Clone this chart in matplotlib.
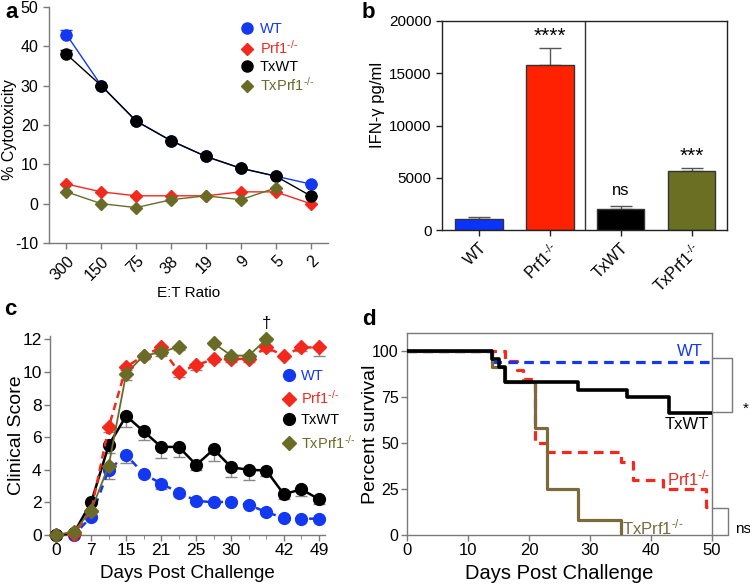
import matplotlib
matplotlib.use('Agg')
import matplotlib.pyplot as plt
from matplotlib.lines import Line2D
import numpy as np

plt.rcParams['font.family'] = ['Liberation Sans', 'DejaVu Sans']
plt.rcParams['mathtext.fontset'] = 'custom'
plt.rcParams['mathtext.rm'] = 'Liberation Sans'
plt.rcParams['mathtext.it'] = 'Liberation Sans:italic'
plt.rcParams['mathtext.default'] = 'regular'
plt.rcParams['axes.unicode_minus'] = False

BLUE = '#1238f2'
RED = '#f2291c'
BLACK = '#000000'
OLIVE = '#6b6b28'
OLIVE_D = '#7a6a3c'
GREY = '#7a7a7a'
SUP = '$^{\u2010/\u2010}$'

# ---------------- Panel a data ----------------
a_ratios = ['300', '150', '75', '38', '19', '9', '5', '2']
a_wt = [43, 30, 21, 16, 12, 9, 7, 5]
a_wt_err = [1.2, 0, 0, 0, 0, 0, 0, 0]
a_prf = [5, 3, 2, 2, 2, 3, 3, 0]
a_txwt = [38, 30, 21, 16, 12, 9, 7, 2]
a_txwt_err = [1.0, 0, 0, 0, 0, 0, 0, 0]
a_txprf = [3, 0, -1, 1, 2, 1, 4, np.nan]

# ---------------- Panel b data ----------------
b_groups = ['WT', 'Prf1' + SUP, 'TxWT', 'TxPrf1' + SUP]
b_vals = [1050, 15800, 2000, 5600]
b_err = [200, 1600, 250, 300]
b_sig = ['', '****', 'ns', '***']
b_colors = ['#0a33ff', '#ff2200', '#000000', '#6b6f24']

# ---------------- Panel c data ----------------
c_wt = [0, 0, 1.1, 4.0, 4.9, 3.75, 3.15, 2.6, 2.1, 2.0, 2.05, 1.85, 1.4, 1.05, 1.0, 1.0]
c_wt_err = [0, 0, 0.1, 0.55, 0.5, 0.2, 0.3, 0.2, 0.15, 0.1, 0.1, 0.1, 0.1, 0.1, 0.1, 0.1]
c_prf = [0, 0.05, 1.5, 6.6, 10.3, 11.0, 11.5, 10.0, 10.4, 10.8, 10.8, 10.8, 11.5, 11.0, 11.5, 11.5]
c_prf_err = [0, 0, 0.1, 0.3, 0.2, 0.2, 0.2, 0.3, 0.3, 0.2, 0.2, 0.2, 0.2, 0.1, 0.2, 0.5]
c_txwt = [0, 0.1, 2.0, 5.5, 7.3, 6.35, 5.4, 5.4, 4.3, 5.25, 4.15, 4.0, 3.95, 2.5, 2.8, 2.2]
c_txwt_err = [0, 0, 0.1, 0.5, 0.7, 0.5, 0.65, 0.6, 0.3, 0.7, 0.6, 0.6, 0.35, 0.3, 0.4, 0.3]
c_txprf = [0, 0.2, 1.5, 4.25, 9.9, 11.0, 11.2, 11.55, np.nan, 11.75, 11.0, 11.0, 12.0,
           np.nan, np.nan, np.nan]
c_txprf_err = [0, 0, 0.1, 0.3, 0.4, 0.2, 0.2, 0.2, 0, 0.1, 0.2, 0.2, 0.1, 0, 0, 0]
c_tick_idx = [0, 2, 4, 6, 8, 10, 13, 15]
c_tick_labels = ['0', '7', '15', '21', '25', '30', '42', '49']

# ---------------- Panel d data ----------------
d_wt_t = [0, 14, 50]
d_wt_s = [100, 94.1, 94.1]
d_txwt_t = [0, 14, 15, 16, 28, 36, 43, 50]
d_txwt_s = [100, 95.8, 91.7, 83.3, 79.2, 75.0, 66.7, 66.7]
d_prf_t = [0, 16, 18, 19, 21, 23, 35, 37, 42, 49, 50]
d_prf_s = [100, 95, 90, 85, 50, 45, 40, 30, 25, 15, 15]
d_txprf_t = [0, 14, 16, 21, 23, 28, 35]
d_txprf_s = [100, 91.7, 83.3, 58.3, 25.0, 8.3, 0]

W, H = 750, 586
fig = plt.figure(figsize=(7.5, 5.86), dpi=100)


def px_axes(l, t, r, b):
    return fig.add_axes([l / W, 1 - b / H, (r - l) / W, (b - t) / H])


def style_spines(ax, color, sides_on):
    for s in ['left', 'right', 'top', 'bottom']:
        ax.spines[s].set_visible(s in sides_on)
        ax.spines[s].set_color(color)
        ax.spines[s].set_linewidth(1.0)
    ax.tick_params(color=color, width=1.0, length=4, direction='out')


# ================= Panel a =================
axa = px_axes(49, 7, 328, 243)
xa = np.arange(len(a_ratios))
z = np.zeros(len(xa))
axa.errorbar(xa, a_wt, yerr=[z, a_wt_err], color=BLUE, lw=1, marker='o', ms=8,
             capsize=4, elinewidth=1, zorder=2)
axa.plot(xa, a_prf, color=RED, lw=1, marker='D', ms=6, zorder=3)
axa.errorbar(xa, a_txwt, yerr=[z, a_txwt_err], color=BLACK, lw=1, marker='o', ms=8,
             capsize=4, elinewidth=1, zorder=4)
axa.plot(xa, a_txprf, color=OLIVE, lw=1, marker='D', ms=6, zorder=5)
axa.set_xlim(-0.5, 7.5)
axa.set_ylim(-10, 50)
axa.set_yticks([-10, 0, 10, 20, 30, 40, 50])
axa.set_xticks(xa)
axa.set_xticklabels(a_ratios, rotation=45, ha='right', rotation_mode='anchor')
style_spines(axa, GREY, ['left', 'bottom'])
axa.tick_params(labelsize=11.5)
axa.set_xlabel('E:T Ratio', fontsize=11, labelpad=2)
axa.set_ylabel('% Cytotoxicity', fontsize=11.5)
axa.yaxis.set_label_coords(-0.115, 0.48)
ha = [Line2D([], [], color=BLUE, marker='o', ms=8, ls='none'),
      Line2D([], [], color=RED, marker='D', ms=6, ls='none'),
      Line2D([], [], color=BLACK, marker='o', ms=8, ls='none'),
      Line2D([], [], color=OLIVE, marker='D', ms=6, ls='none')]
axa.legend(ha, ['WT', 'Prf1' + SUP, 'TxWT', 'TxPrf1' + SUP], loc='upper left',
           bbox_to_anchor=(0.64, 0.99), frameon=False, fontsize=10.5,
           handlelength=0.8, handletextpad=0.5, labelspacing=0.18,
           labelcolor=[BLUE, RED, BLACK, OLIVE])

# ================= Panel b =================
axb = px_axes(442, 21, 727, 230)
xb = np.arange(len(b_groups))
axb.bar(xb, b_vals, width=0.67, color=b_colors, edgecolor='#333333', linewidth=1.0,
        zorder=2)
axb.errorbar(xb, b_vals, yerr=[np.zeros(4), b_err], fmt='none', ecolor='#555555',
             elinewidth=1, capsize=8, zorder=1)
for i, s in enumerate(b_sig):
    if s:
        top = b_vals[i] + b_err[i]
        if s == 'ns':
            axb.text(xb[i], top + 800, s, ha='center', va='bottom', fontsize=12)
        else:
            axb.text(xb[i], top + 200, s, ha='center', va='bottom', fontsize=15)
axb.axvline(1.5, color='#333333', lw=1)
axb.set_xlim(-0.52, 3.5)
axb.set_ylim(0, 20000)
axb.set_yticks([0, 5000, 10000, 15000, 20000])
axb.set_xticks(xb)
axb.set_xticklabels(b_groups, rotation=45, ha='right', rotation_mode='anchor')
style_spines(axb, '#222222', ['left', 'right', 'top', 'bottom'])
axb.tick_params(labelsize=11.5)
axb.tick_params(axis='y', labelsize=11)
axb.set_ylabel('IFN-γ pg/ml', fontsize=12)
axb.yaxis.set_label_coords(-0.2, 0.6)

# ================= Panel c =================
axc = px_axes(50, 336, 325, 535)
xc = np.arange(len(c_wt))
zc = np.zeros(len(xc))
ekw = dict(fmt='none', ecolor='#888888', elinewidth=1, capsize=4)
axc.errorbar(xc, c_wt, yerr=[c_wt_err, zc], zorder=1, **ekw)
axc.errorbar(xc, c_prf, yerr=[c_prf_err, zc], zorder=1, **ekw)
axc.errorbar(xc, c_txwt, yerr=[c_txwt_err, zc], zorder=1, **ekw)
axc.errorbar(xc, c_txprf, yerr=[c_txprf_err, zc], zorder=1, **ekw)
axc.plot(xc, c_wt, color=BLUE, lw=1.8, ls=(0, (3, 2.5)), marker='o', ms=8.5, zorder=2,
         clip_on=False)
axc.plot(xc, c_txwt, color=BLACK, lw=1.8, marker='o', ms=8.5, zorder=3, clip_on=False)
axc.plot(xc, c_prf, color=RED, lw=1.8, ls=(0, (3, 2)), marker='D', ms=7, zorder=4,
         clip_on=False)
axc.plot(xc, c_txprf, color=OLIVE, lw=1.3, marker='D', ms=7, zorder=5, clip_on=False)
axc.text(12, 12.5, '†', ha='center', va='bottom', fontsize=12)
axc.set_xlim(-0.35, 15.35)
axc.set_ylim(0, 12.2)
axc.set_yticks([0, 2, 4, 6, 8, 10, 12])
axc.set_xticks(c_tick_idx)
axc.set_xticklabels(c_tick_labels)
axc.set_xticks(xc, minor=True)
style_spines(axc, GREY, ['left', 'bottom'])
axc.tick_params(which='minor', length=3, color=GREY)
axc.tick_params(labelsize=12.5, pad=2)
axc.set_xlabel('Days Post Challenge', fontsize=13.5, labelpad=5)
axc.set_ylabel('Clinical Score', fontsize=14)
axc.yaxis.set_label_coords(-0.09, 0.5)
hc = [Line2D([], [], color=BLUE, marker='o', ms=8.5, ls='none'),
      Line2D([], [], color=RED, marker='D', ms=7, ls='none'),
      Line2D([], [], color=BLACK, marker='o', ms=8.5, ls='none'),
      Line2D([], [], color=OLIVE, marker='D', ms=7, ls='none')]
axc.legend(hc, ['WT', 'Prf1' + SUP, 'TxWT', 'TxPrf1' + SUP], loc='upper left',
           bbox_to_anchor=(0.8, 0.9), frameon=False, fontsize=10.5,
           handlelength=0.8, handletextpad=0.4, labelspacing=0.42,
           labelcolor=[BLUE, RED, BLACK, OLIVE])

# ================= Panel d =================
axd = px_axes(407, 333, 712, 535)
axd.step(d_prf_t, d_prf_s, where='post', color=RED, lw=2.3, ls=(0, (3, 2)), zorder=1)
axd.step(d_wt_t, d_wt_s, where='post', color=BLUE, lw=2.3, ls=(0, (3, 2)), zorder=2)
axd.step(d_txprf_t, d_txprf_s, where='post', color=OLIVE_D, lw=2.3, zorder=3)
axd.step(d_txwt_t, d_txwt_s, where='post', color=BLACK, lw=2.6, zorder=4)
axd.set_xlim(0, 50)
axd.set_ylim(0, 110)
axd.set_yticks([0, 25, 50, 75, 100])
axd.set_xticks([0, 10, 20, 30, 40, 50])
style_spines(axd, GREY, ['left', 'right', 'top', 'bottom'])
axd.tick_params(labelsize=12, pad=2)
axd.tick_params(axis='y', labelsize=11.5)
axd.set_xlabel('Days Post Challenge', fontsize=14.5, labelpad=4)
axd.set_ylabel('Percent survival', fontsize=14)
axd.yaxis.set_label_coords(-0.092, 0.5)
axd.text(48.5, 100, 'WT', color=BLUE, ha='right', va='center', fontsize=12)
axd.text(49.5, 60, 'TxWT', color=BLACK, ha='right', va='center', fontsize=12)
axd.text(42.6, 31, 'Prf1' + SUP, color=RED, ha='left', va='center', fontsize=12)
axd.text(35.3, 4, 'TxPrf1' + SUP, color=OLIVE_D, ha='left', va='center', fontsize=12)
# significance brackets
axd.plot([50, 53.3, 53.3, 50], [96.5, 96.5, 66.8, 66.8], color=GREY, lw=1, clip_on=False)
axd.text(55.0, 69, '*', ha='left', va='center', fontsize=11)
axd.plot([50, 52.7, 52.7, 50], [14.7, 14.7, 0, 0], color=GREY, lw=1, clip_on=False)
axd.text(53.8, 3, 'ns', ha='left', va='center', fontsize=11)

# panel letters
for lab, x, yb in [('a', 5, 18), ('b', 362, 18), ('c', 4, 315), ('d', 362, 325)]:
    fig.text(x / W, 1 - yb / H, lab, fontsize=16, fontweight='bold', va='baseline',
             ha='left')

fig.savefig('out.png', dpi=100)
